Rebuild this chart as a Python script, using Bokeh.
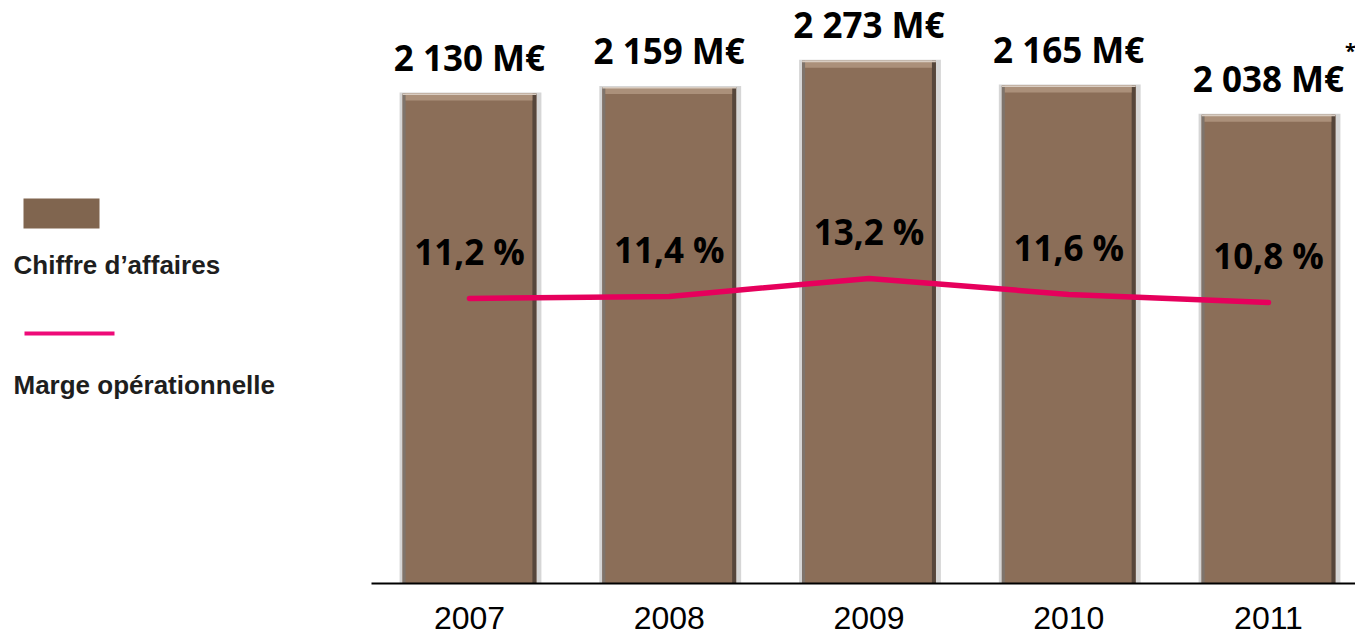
import numpy as np
from bokeh.plotting import figure
from bokeh.models import Range1d, FixedTicker, ColumnDataSource
from bokeh.layouts import row
from bokeh.core.properties import value
from bokeh.embed import file_html
from bokeh.resources import INLINE

# ---------------- data ----------------
years = ["2007", "2008", "2009", "2010", "2011"]
revenue = [2130, 2159, 2273, 2165, 2038]          # M€
revenue_labels = ["2 130 M€", "2 159 M€", "2 273 M€", "2 165 M€", "2 038 M€"]
margin = [11.2, 11.4, 13.2, 11.6, 10.8]            # %
margin_labels = ["11,2 %", "11,4 %", "13,2 %", "11,6 %", "10,8 %"]
legend_labels = ["Chiffre d’affaires", "Marge opérationnelle"]

# ---------------- styles ----------------
BAR = "#8B6E58"
BAR_TOP = "#AB907A"
BAR_RIGHT = "#56463B"
BAR_LEFT = "#7E746C"
LINE = "#E6005C"
LEGEND_LINE = "#EE0A78"
TEXT_FONT = value("Open Sans")
LEG_FONT = value("Liberation Sans")

LEG_W = 371
FRAME_W, FRAME_H = 984, 575
TOP_PAD = 8
AXIS_Y = TOP_PAD + FRAME_H
X0 = -0.4906
X1 = X0 + FRAME_W / 199.75
Y_MAX = 2500
PCT_MIN, PCT_MAX = -17.31, 40.19
PXX = (X1 - X0) / FRAME_W
PXY = Y_MAX / FRAME_H
BAR_W = 0.67

idx = np.arange(len(years))
rev = np.array(revenue, dtype=float)

p = figure(frame_width=FRAME_W, frame_height=FRAME_H,
           x_range=Range1d(X0, X1), y_range=Range1d(0, Y_MAX),
           output_backend="svg", toolbar_location=None, y_axis_type=None,
           min_border=0, min_border_left=0, min_border_right=0, min_border_top=TOP_PAD,
           outline_line_color=None, background_fill_color="white",
           border_fill_color="white")
p.extra_y_ranges = {"pct": Range1d(PCT_MIN, PCT_MAX)}
p.xgrid.visible = False

left = idx - BAR_W / 2
right = idx + BAR_W / 2

# soft shadow around bars
p.quad(left=left - 3 * PXX, right=right + 5 * PXX, bottom=0, top=rev + 1 * PXY,
       fill_color="#B4B4B4", fill_alpha=0.55, line_color=None)
# main bar body
p.quad(left=left, right=right, bottom=0, top=rev, fill_color=BAR, line_color=None)
# left edge
p.quad(left=left, right=left + 3 * PXX, bottom=0, top=rev,
       fill_color=BAR_LEFT, line_color=None)
# right edge
p.quad(left=right - 4 * PXX, right=right, bottom=0, top=rev,
       fill_color=BAR_RIGHT, line_color=None)
# top bevel
p.quad(left=left + 3 * PXX, right=right - 4 * PXX, bottom=rev - 7 * PXY, top=rev,
       fill_color=BAR_TOP, line_color=None)
p.quad(left=left, right=right, bottom=rev - 1.5 * PXY, top=rev,
       fill_color="#D9CDC2", line_color=None)

# margin line
p.line(idx, margin, y_range_name="pct", line_color=LINE, line_width=5.5,
       line_cap="round", line_join="round")

# value labels
src_rev = ColumnDataSource(dict(x=idx, y=rev, t=revenue_labels))
p.text(x="x", y="y", text="t", source=src_rev, text_align="center",
       text_baseline="alphabetic", y_offset=-36, text_font=TEXT_FONT,
       text_font_style="bold", text_font_size="35px", text_color="black")
# footnote asterisk on last value
p.text(x=[idx[-1]], y=[rev[-1]], text=["*"], text_align="center",
       text_baseline="alphabetic", x_offset=82, y_offset=-64,
       text_font=TEXT_FONT, text_font_style="bold", text_font_size="20px",
       text_color="black")

src_pct = ColumnDataSource(dict(x=idx, y=margin, t=margin_labels))
p.text(x="x", y="y", text="t", source=src_pct, y_range_name="pct",
       text_align="center", text_baseline="alphabetic", y_offset=-47,
       text_font=TEXT_FONT, text_font_style="bold", text_font_size="35px",
       text_color="black")

# x axis
p.xaxis.ticker = FixedTicker(ticks=list(idx))
p.xaxis.major_label_overrides = {int(i): y for i, y in zip(idx, years)}
p.xaxis.major_tick_line_color = None
p.xaxis.minor_tick_line_color = None
p.xaxis.axis_line_color = "black"
p.xaxis.axis_line_width = 2
p.xaxis.major_label_text_font = "Liberation Sans"
p.xaxis.major_label_text_font_size = "32px"
p.xaxis.major_label_text_color = "black"
p.xaxis.major_label_standoff = 17

# ---------------- legend panel ----------------
# its frame is aligned with the chart frame, so use page-like coordinates
lg = figure(frame_width=LEG_W, frame_height=FRAME_H,
            x_range=Range1d(0, LEG_W), y_range=Range1d(AXIS_Y, TOP_PAD),
            output_backend="svg", toolbar_location=None,
            x_axis_type=None, y_axis_type=None,
            min_border=0, min_border_top=TOP_PAD, outline_line_color=None)
lg.grid.visible = False
lg.quad(left=[23], right=[99], top=[198], bottom=[228], fill_color="#80654F", line_color=None)
lg.line([24, 114], [333, 333], line_color=LEGEND_LINE, line_width=4)
lg.text(x=[13, 13], y=[264, 384], text=legend_labels, text_font=LEG_FONT,
        text_font_style="bold", text_font_size="26px", text_color="#1E1E1E",
        text_baseline="alphabetic", text_align="left")

layout = row(lg, p)
open("out.html", "w").write(file_html(layout, INLINE))
